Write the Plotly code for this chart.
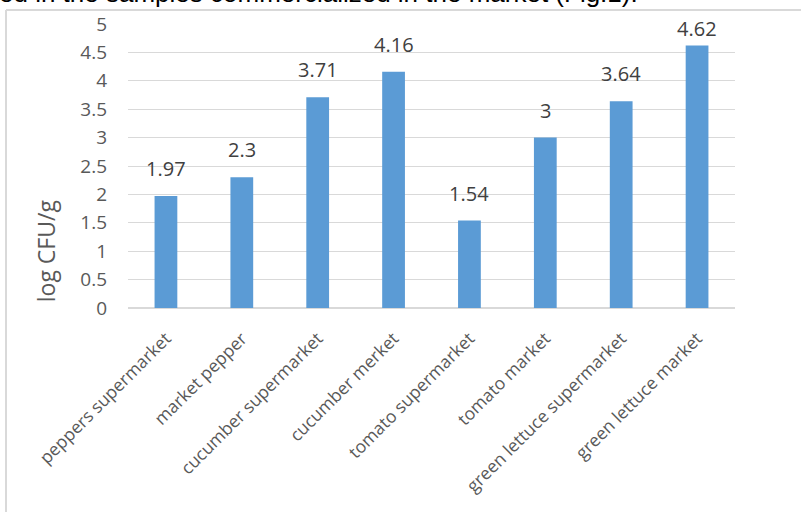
import plotly.graph_objects as go

categories = [
    "peppers supermarket",
    "market pepper",
    "cucumber supermarket",
    "cucumber merket",
    "tomato supermarket",
    "tomato market",
    "green lettuce supermarket",
    "green lettuce market",
]
log_cfu = [1.97, 2.3, 3.71, 4.16, 1.54, 3.0, 3.64, 4.62]
value_labels = ["1.97", "2.3", "3.71", "4.16", "1.54", "3", "3.64", "4.62"]
# the tallest label is nudged down so it stays inside the chart area
label_lift = [12, 12, 12, 12, 12, 12, 12, 2]
y_ticks = [0, 0.5, 1, 1.5, 2, 2.5, 3, 3.5, 4, 4.5, 5]
y_tick_text = ["0", "0.5", "1", "1.5", "2", "2.5", "3", "3.5", "4", "4.5", "5"]

BAR = "#5B9BD5"
GRID = "#D9D9D9"
AXIS_TEXT = "#595959"
LABEL_TEXT = "#404040"
FONT = "Open Sans"

fig = go.Figure(
    go.Bar(
        x=categories,
        y=log_cfu,
        marker=dict(color=BAR, line=dict(width=0)),
        hoverinfo="x+y",
    )
)

# value labels above each bar
for cat, val, txt, lift in zip(categories, log_cfu, value_labels, label_lift):
    fig.add_annotation(
        x=cat, y=val, text=txt, showarrow=False,
        xref="x", yref="y", xanchor="center", yanchor="bottom", yshift=lift,
        font=dict(family=FONT, size=20, color=LABEL_TEXT),
    )

# y-axis title, sitting low beside the axis
fig.add_annotation(
    x=-0.135, y=0.2, xref="paper", yref="paper",
    xanchor="center", yanchor="middle", showarrow=False, textangle=-90,
    text="log CFU/g",
    font=dict(family=FONT, size=23, color=AXIS_TEXT),
)

# sentence from the surrounding document, clipped by the frame edge
fig.add_annotation(
    x=-0.216, y=1.049, xref="paper", yref="paper",
    xanchor="left", yanchor="bottom", showarrow=False,
    text="ed in the samples commercialized in the market (Fig.1).",
    font=dict(family="Liberation Sans", size=26, color="#000000"),
)

# chart frame (left and top edges)
fig.add_shape(type="line", xref="paper", yref="paper",
              x0=-0.201, x1=-0.201, y0=1.049, y1=-0.75,
              line=dict(color=GRID, width=2))
fig.add_shape(type="line", xref="paper", yref="paper",
              x0=-0.201, x1=1.12, y0=1.049, y1=1.049,
              line=dict(color=GRID, width=2))

fig.update_layout(
    width=801, height=512,
    margin=dict(l=128, r=66, t=24, b=204, autoexpand=False),
    paper_bgcolor="white", plot_bgcolor="white",
    bargap=0.7,
    showlegend=False,
    font=dict(family=FONT, color=AXIS_TEXT),
    xaxis=dict(
        tickangle=-45,
        tickfont=dict(family=FONT, size=17.5, color=AXIS_TEXT),
        showgrid=False, showline=False, ticks="",
        ticklabelstandoff=16,
    ),
    yaxis=dict(
        range=[0, 5],
        tickvals=y_ticks, ticktext=y_tick_text,
        tickfont=dict(family=FONT, size=19, color=AXIS_TEXT),
        showgrid=True, gridcolor=GRID, gridwidth=1,
        zeroline=True, zerolinecolor=GRID, zerolinewidth=2,
        showline=False, ticks="",
        ticklabelstandoff=20,
    ),
)

fig.write_html("out.html")
